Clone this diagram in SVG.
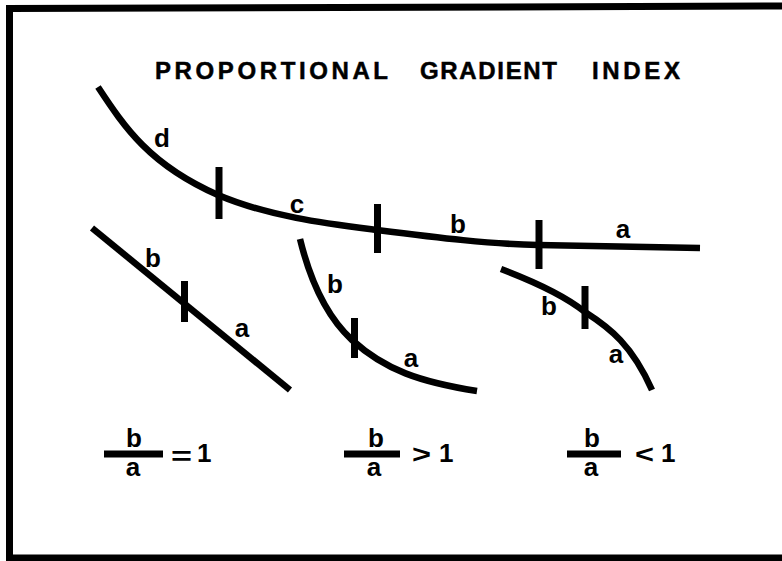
<svg xmlns="http://www.w3.org/2000/svg" width="782" height="561" viewBox="0 0 782 561">
<style>
.ln{fill:none;stroke:#000;stroke-width:6.5;stroke-linecap:butt;stroke-linejoin:round}
.tk{fill:none;stroke:#000;stroke-width:7}
.bar{fill:none;stroke:#000;stroke-width:7}
.t{font-family:"Liberation Sans",Arial,Helvetica,sans-serif;font-weight:bold;fill:#000}
.title{font-size:24px;stroke:#000;stroke-width:0.5}
.lb{font-size:26px;text-anchor:middle}
.fm{font-size:26px}
</style>
<rect x="0" y="0" width="782" height="561" fill="#fff"/>
<g id="frame">
<polyline points="782,6 9.5,8.5 9.5,558 782,558" fill="none" stroke="#000" stroke-width="7"/>
</g>
<g id="title">
<text class="t title" x="155" y="79" textLength="233" lengthAdjust="spacing">PROPORTIONAL</text>
<text class="t title" x="420" y="79" textLength="137" lengthAdjust="spacing">GRADIENT</text>
<text class="t title" x="592" y="79" textLength="88" lengthAdjust="spacing">INDEX</text>
</g>
<g id="connectors">
<path class="ln" d="M98,87 C125,128 150,165 218,195 C270,217 330,224 377,230 C440,238 490,244 538,245 L700,248"/>
<line class="tk" x1="219" y1="167" x2="219" y2="219"/>
<line class="tk" x1="377.5" y1="204" x2="377.5" y2="253"/>
<line class="tk" x1="539" y1="220" x2="539" y2="269"/>
<path class="ln" d="M92,228 L290,390"/>
<line class="tk" x1="184.5" y1="281" x2="184.5" y2="322"/>
<path class="ln" d="M300,239 C310,280 325,315 352,340 C385,370 420,382 477,391"/>
<line class="tk" x1="354.5" y1="318" x2="354.5" y2="358"/>
<path class="ln" d="M501,269 C530,280 565,296 585,312 C610,328 632,345 652,390"/>
<line class="tk" x1="585" y1="286" x2="585" y2="329"/>
</g>
<g id="labels">
<text class="t lb" x="162" y="147">d</text>
<text class="t lb" x="297" y="213">c</text>
<text class="t lb" x="458" y="233">b</text>
<text class="t lb" x="623" y="238">a</text>
<text class="t lb" x="153" y="267">b</text>
<text class="t lb" x="242" y="337">a</text>
<text class="t lb" x="335" y="293">b</text>
<text class="t lb" x="411" y="367">a</text>
<text class="t lb" x="549" y="315">b</text>
<text class="t lb" x="616" y="363">a</text>
</g>
<g id="ratio-equal">
<text class="t lb" x="134" y="447">b</text>
<line class="bar" x1="104" y1="454" x2="163" y2="454"/>
<text class="t lb" x="133" y="476">a</text>
<text class="t fm" x="171" y="465" textLength="21" lengthAdjust="spacingAndGlyphs">=</text>
<text class="t fm" x="197" y="462">1</text>
</g>
<g id="ratio-greater">
<text class="t lb" x="376" y="447">b</text>
<line class="bar" x1="344" y1="454" x2="400" y2="454"/>
<text class="t lb" x="374" y="476">a</text>
<text class="t fm" x="412" y="463" textLength="19" lengthAdjust="spacingAndGlyphs">&gt;</text>
<text class="t fm" x="439" y="462">1</text>
</g>
<g id="ratio-less">
<text class="t lb" x="592" y="447">b</text>
<line class="bar" x1="567" y1="454" x2="621" y2="454"/>
<text class="t lb" x="591" y="476">a</text>
<text class="t fm" x="635" y="463" textLength="19" lengthAdjust="spacingAndGlyphs">&lt;</text>
<text class="t fm" x="661" y="462">1</text>
</g>
</svg>
